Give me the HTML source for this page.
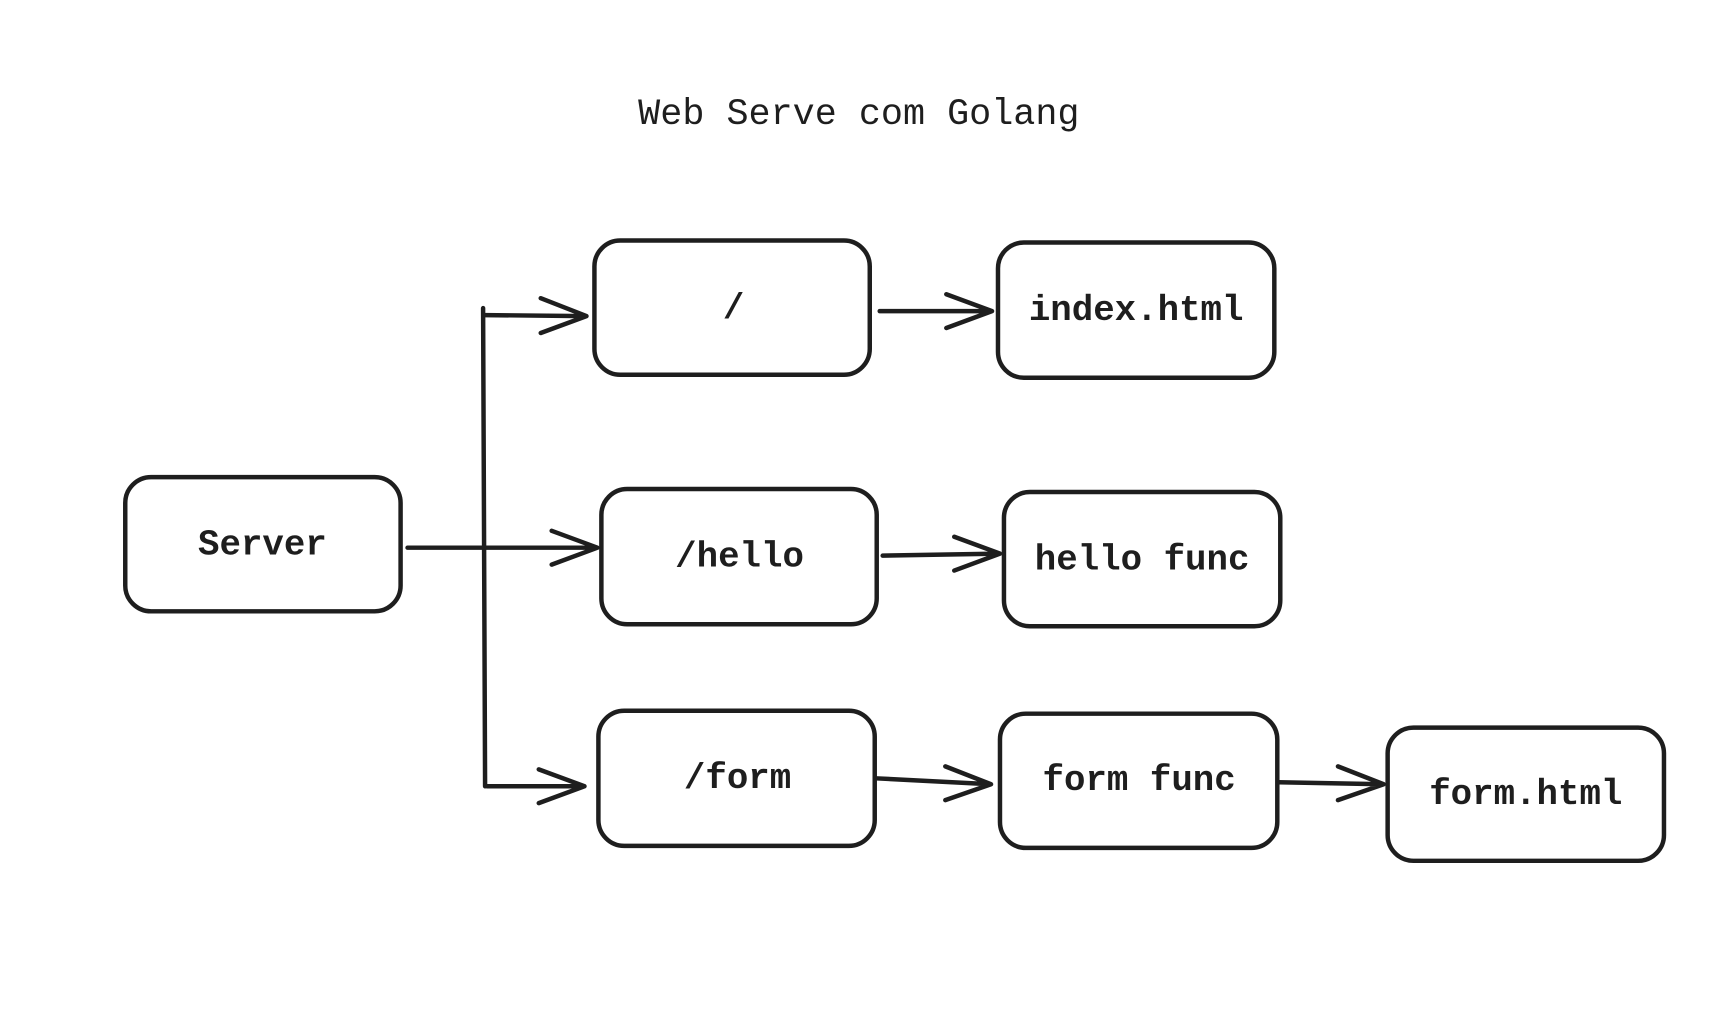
<!DOCTYPE html>
<html><head><meta charset="utf-8"><style>
html,body{margin:0;padding:0;background:#fff;}
svg{display:block;}
text{font-family:"Liberation Mono",monospace;fill:#1e1e1e;}
</style></head><body>
<svg width="1730" height="1030" viewBox="0 0 1730 1030" xmlns="http://www.w3.org/2000/svg">
<g transform="translate(2,0) scale(0.994)">
<g fill="none" stroke="#1e1e1e" stroke-width="4.5" stroke-linecap="round" stroke-linejoin="round">
<rect x="124" y="480" width="277" height="135" rx="26"/>
<rect x="596" y="242" width="277" height="135" rx="26"/>
<rect x="1002" y="244" width="278" height="136" rx="26"/>
<rect x="603" y="492" width="277" height="136" rx="26"/>
<rect x="1008" y="495" width="278" height="135" rx="26"/>
<rect x="600" y="715" width="278" height="136" rx="26"/>
<rect x="1004" y="718" width="279" height="135" rx="26"/>
<rect x="1394" y="732" width="278" height="134" rx="26"/>
<path d="M408 551 L599 551 M553 534 L599 551 L553 568"/>
<path d="M484 310 L486 791"/>
<path d="M486 317 L588 318 M542 300 L588 318 L542 335"/>
<path d="M488 791 L586 791 M540 774 L586 791 L540 808"/>
<path d="M883 313 L996 313 M950 296 L996 313 L950 330"/>
<path d="M886 559 L1004 557 M958 540 L1004 557 L958 574"/>
<path d="M879 783 L995 789 M949 771 L995 789 L949 805"/>
<path d="M1284 787 L1390 789 M1344 771 L1390 789 L1344 805"/>
</g>
<g font-size="36" text-anchor="middle">
<text x="862" y="125" font-size="37">Web Serve com Golang</text>
<text x="262" y="558" font-weight="bold">Server</text>
<text x="736" y="320" font-weight="bold">/</text>
<text x="1141" y="322" font-weight="bold">index.html</text>
<text x="742" y="570" font-weight="bold">/hello</text>
<text x="1147" y="573" font-weight="bold">hello func</text>
<text x="740" y="793" font-weight="bold">/form</text>
<text x="1144" y="795" font-weight="bold">form func</text>
<text x="1533" y="809" font-weight="bold">form.html</text>
</g>
</g>
</svg>
</body></html>
